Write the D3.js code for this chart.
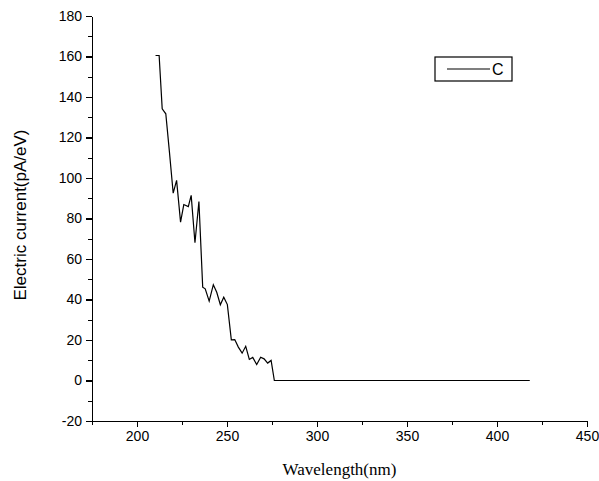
<!DOCTYPE html>
<meta charset="utf-8">

<!-- Load d3.js -->
<script src="https://d3js.org/d3.v7.min.js"></script>

<style>
    body { margin: 0; background: #fff; }
    .axis path, .axis line { stroke: #000; stroke-width: 1.2; shape-rendering: crispEdges; }
    .axis text { font-family: Arial, "Liberation Sans", sans-serif; font-size: 14px; fill: #000; }
</style>

<body>
<div id="my_dataviz"></div>

<script>

    // data
    var wavelength = [210.3, 212.3, 214, 216, 218, 220.1, 222, 224.2, 226, 228.5, 230.1, 232.2, 234.4,
        236.5, 237.9, 240.1, 242.4, 244.3, 246.3, 248.2, 250.2, 252.4, 254.3, 256.3, 258.4, 260.4,
        262.4, 264.3, 266.5, 268.7, 270.6, 272.6, 274.5, 276.3, 418.2];
    var current = [160.5, 160.5, 134.2, 131.7, 113, 92.5, 98.8, 78.2, 86.9, 85.9, 91.4, 68.0, 88.4,
        46.1, 45.3, 39.2, 47.3, 43.6, 37.4, 41.1, 37.5, 20.1, 20.2, 16.5, 13.5, 16.9,
        10.4, 11.4, 7.9, 11.5, 10.7, 8.6, 9.9, 0, 0];
    var seriesName = "C";

    var xTicks = [200, 250, 300, 350, 400, 450];
    var xMinor = [175, 225, 275, 325, 375, 425];
    var yTicks = [-20, 0, 20, 40, 60, 80, 100, 120, 140, 160, 180];
    var yMinor = [-10, 10, 30, 50, 70, 90, 110, 130, 150, 170];

    // set the dimensions and margins of the graph
    var margin = { top: 16, right: 12, bottom: 60, left: 92 },
        width = 599 - margin.left - margin.right,
        height = 481 - margin.top - margin.bottom;

    var svg = d3.select("#my_dataviz").append("svg")
        .attr("width", 599)
        .attr("height", 481)
        .append("g")
        .attr("transform", "translate(" + margin.left + "," + margin.top + ")");

    var x = d3.scaleLinear().domain([175, 450]).range([0, width]);
    var y = d3.scaleLinear().domain([-20, 180]).range([height, 0]);

    // plain hyphen for negatives, like the original
    var fmt = function (d) { return String(d); };

    // minor ticks first, then the major axis on top
    svg.append("g")
        .attr("class", "axis")
        .attr("transform", "translate(0," + height + ")")
        .call(d3.axisBottom(x).tickValues(xMinor).tickSize(4).tickFormat(""))
        .select(".domain").remove();

    svg.append("g")
        .attr("class", "axis")
        .call(d3.axisLeft(y).tickValues(yMinor).tickSize(4).tickFormat(""))
        .select(".domain").remove();

    svg.append("g")
        .attr("class", "axis")
        .attr("transform", "translate(0," + height + ")")
        .call(d3.axisBottom(x).tickValues(xTicks).tickFormat(fmt).tickSizeInner(6).tickSizeOuter(0).tickPadding(4));

    svg.append("g")
        .attr("class", "axis")
        .call(d3.axisLeft(y).tickValues(yTicks).tickFormat(fmt).tickSizeInner(6).tickSizeOuter(0).tickPadding(4));

    // axis titles
    svg.append("text")
        .attr("x", width / 2 + 0)
        .attr("y", height + 54)
        .attr("text-anchor", "middle")
        .style("font-family", "'Times New Roman', 'Liberation Serif', serif")
        .style("font-size", "17px")
        .text("Wavelength(nm)");

    svg.append("text")
        .attr("transform", "translate(" + (26 - margin.left) + "," + (215 - margin.top) + ") rotate(-90)")
        .attr("text-anchor", "middle")
        .style("font-family", "Arial, 'Liberation Sans', sans-serif")
        .style("font-size", "17px")
        .text("Electric current(pA/eV)");

    // the line
    var line = d3.line()
        .x(function (d, i) { return x(wavelength[i]); })
        .y(function (d) { return y(d); });

    svg.append("path")
        .datum(current)
        .attr("fill", "none")
        .attr("stroke", "#000")
        .attr("stroke-width", 1.2)
        .attr("stroke-linejoin", "miter")
        .attr("d", line);

    // legend
    var legend = svg.append("g")
        .attr("transform", "translate(" + (435 - margin.left) + "," + (57 - margin.top) + ")");

    legend.append("rect")
        .attr("width", 77)
        .attr("height", 24)
        .attr("fill", "#fff")
        .attr("stroke", "#000")
        .attr("stroke-width", 1.2);

    legend.append("line")
        .attr("x1", 12).attr("x2", 55)
        .attr("y1", 12).attr("y2", 12)
        .attr("stroke", "#000")
        .attr("stroke-width", 1.2);

    legend.append("text")
        .attr("x", 57)
        .attr("y", 18)
        .style("font-family", "Arial, 'Liberation Sans', sans-serif")
        .style("font-size", "16px")
        .text(seriesName);

</script>
</body>
</html>
